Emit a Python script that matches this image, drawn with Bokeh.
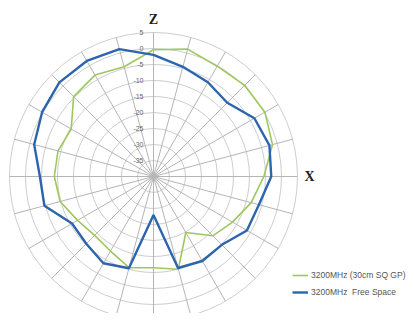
import numpy as np
from bokeh.plotting import figure
from bokeh.models import Range1d, Legend, LegendItem
from bokeh.core.properties import value
from bokeh.embed import file_html
from bokeh.resources import INLINE

# Angles (degrees, clockwise from Z / top)
angles = list(range(0, 360, 15))
# 3200MHz (30cm SQ GP) - dBi
gp_vals = [-0.4, 1.2, -0.2, 0.3, 0.2, -1.5, -5.5, -8.4, -11.5, -13.8, -19.8, -10.0,
           -11.5, -10.5, -13.1, -14.0, -12.6, -9.8, -9.0, -9.1, -10.3, -4.7, -3.4, -4.5]
# 3200MHz Free Space - dBi
fs_vals = [-2.0, -4.5, -6.0, -7.4, -3.6, -2.5, -3.2, -5.9, -6.3, -9.8, -9.5, -10.4,
           -28.0, -10.3, -8.7, -10.3, -10.6, -4.7, -4.5, -1.4, 0.2, 1.6, 1.7, 1.2]
ring_vals = [5, 0, -5, -10, -15, -20, -25, -30, -35]
ring_labels = ["5", "0", "-5", "-10", "-15", "-20", "-25", "-30", "-35"]
r_min, r_max = -40, 5
series_names = ["3200MHz (30cm SQ GP)", "3200MHz  Free Space"]

W, H = 406, 313
cx, cy = 153, 176
R = 144.0
scale = R / (r_max - r_min)

p = figure(width=W, height=H, output_backend="svg", toolbar_location=None,
           x_range=Range1d(-cx, W - cx), y_range=Range1d(-(H - cy), cy),
           min_border=0)
p.axis.visible = False
p.grid.visible = False
p.outline_line_color = None
p.background_fill_color = "white"

def rad(v):
    return (v - r_min) * scale

# rings
p.circle(x=[0] * len(ring_vals), y=[0] * len(ring_vals),
         radius=[rad(v) for v in ring_vals], fill_color=None,
         line_color="#cdcdcd", line_width=1)
# spokes
th = np.radians(angles)
p.segment(x0=[0] * len(angles), y0=[0] * len(angles),
          x1=list(R * np.sin(th)), y1=list(R * np.cos(th)),
          line_color="#b5b5b5", line_width=1)

def xy(vals):
    rs = np.array([rad(v) for v in vals])
    xs = list(rs * np.sin(th)) + [rs[0] * np.sin(th[0])]
    ys = list(rs * np.cos(th)) + [rs[0] * np.cos(th[0])]
    return xs, ys

gx, gy = xy(gp_vals)
bx, by = xy(fs_vals)
g_r = p.line(gx, gy, line_color="#9fc75f", line_width=1.6)
b_r = p.line(bx, by, line_color="#2c65ad", line_width=2.4)

# ring labels
p.text(x=[-10] * len(ring_vals), y=[rad(v) for v in ring_vals], text=ring_labels,
       text_align="right", text_baseline="middle", text_font_size="7px",
       text_color="#666666", text_font=value("Liberation Sans"))

# axis direction labels
p.text(x=[0], y=[R + 13], text=["Z"], text_align="center", text_baseline="middle",
       text_font_size="14px", text_font_style="bold", text_color="#222222",
       text_font=value("Liberation Serif"))
p.text(x=[R + 12], y=[0], text=["X"], text_align="center", text_baseline="middle",
       text_font_size="14px", text_font_style="bold", text_color="#222222",
       text_font=value("Liberation Serif"))

legend = Legend(items=[LegendItem(label=series_names[0], renderers=[g_r]),
                       LegendItem(label=series_names[1], renderers=[b_r])],
                location=(292, 16), padding=0, margin=0, spacing=7,
                glyph_width=16, glyph_height=10, label_standoff=3,
                label_text_font_size="8.5px", label_text_color="#555555",
                label_text_font="Liberation Sans",
                border_line_color=None, background_fill_alpha=0)
p.add_layout(legend, "center")

open("out.html", "w").write(file_html(p, INLINE))
